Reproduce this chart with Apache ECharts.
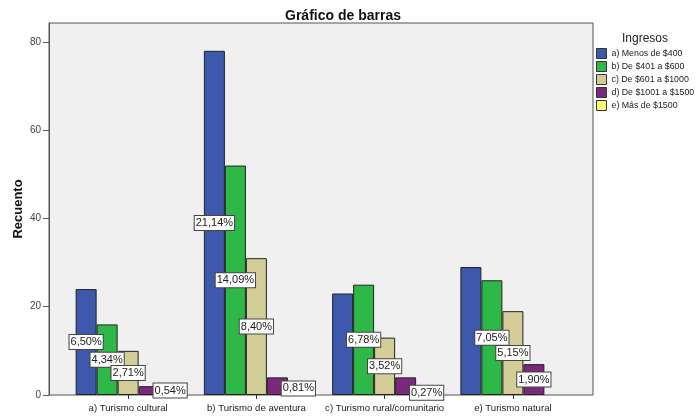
<!DOCTYPE html>
<html>
<head>
<meta charset="utf-8">
<script src="https://cdn.jsdelivr.net/npm/echarts@6/dist/echarts.min.js"></script>
<style>html,body{margin:0;padding:0;background:#fff}#c{width:696px;height:416px}</style>
</head>
<body>
<div id="c"></div>
<script>
const categories = ['a) Turismo cultural', 'b) Turismo de aventura', 'c) Turismo rural/comunitario', 'e) Turismo natural'];
const seriesNames = ['a) Menos de $400', 'b) De $401 a $600', 'c) De $601 a $1000', 'd) De $1001 a $1500', 'e) Más de $1500'];
const menos400 = [24, 78, 23, 29];
const de401a600 = [16, 52, 25, 26];
const de601a1000 = [10, 31, 13, 19];
const de1001a1500 = [2, 4, 4, 7];
const mas1500 = [2, 3, 1, 0];
const pctMenos400 = ['6,50%', '21,14%', '', ''];
const pct401a600 = ['4,34%', '14,09%', '6,78%', '7,05%'];
const pct601a1000 = ['2,71%', '8,40%', '3,52%', '5,15%'];
const pct1001a1500 = ['', '', '', '1,90%'];
const pctMas1500 = ['0,54%', '0,81%', '0,27%', ''];
const yTicks = [0, 20, 40, 60, 80];
const colors = ['#3E58AC', '#2EB848', '#D3CE97', '#7C287D', '#FBF873'];

const values = [menos400, de401a600, de601a1000, de1001a1500, mas1500];
const pcts = [pctMenos400, pct401a600, pct601a1000, pct1001a1500, pctMas1500];
const FONT = 'Liberation Sans, Arial, sans-serif';
const YMAX = 84.3;

const chart = echarts.init(document.getElementById('c'), null, {renderer: 'canvas'});
chart.setOption({
  animation: false,
  textStyle: {fontFamily: FONT},
  title: [
    {text: 'Gráfico de barras', left: 338, top: 4, textAlign: 'center',
     textStyle: {fontSize: 14, fontWeight: 'bold', color: '#111', fontFamily: FONT}},
    {text: 'Ingresos', left: 640, top: 28, textAlign: 'center',
     textStyle: {fontSize: 12, fontWeight: 'normal', color: '#222', fontFamily: FONT}}
  ],
  legend: {
    orient: 'vertical', left: 591, top: 43,
    itemWidth: 10, itemHeight: 10, itemGap: 2,
    icon: 'rect',
    itemStyle: {borderColor: '#333', borderWidth: 1},
    textStyle: {fontSize: 8.8, lineHeight: 10, color: '#222', fontFamily: FONT},
    data: seriesNames
  },
  grid: [
    {left: 49, right: 103, top: 23, bottom: 21, show: true, backgroundColor: '#F0F0F0', borderColor: '#555', borderWidth: 1},
    {left: 64, right: 119, top: 23, bottom: 21}
  ],
  xAxis: [
    {gridIndex: 0, type: 'value', min: 0, max: 1, show: false},
    {gridIndex: 1, type: 'category', data: categories,
     axisLine: {show: false},
     axisTick: {show: true, alignWithLabel: true, length: 4, lineStyle: {color: '#333'}},
     axisLabel: {fontSize: 9.6, color: '#222', margin: 8, interval: 0, fontFamily: FONT}}
  ],
  yAxis: [
    {gridIndex: 0, type: 'value', min: 0, max: YMAX,
     name: 'Recuento', nameLocation: 'middle', nameGap: 24, nameRotate: 90, nameMoveOverlap: false,
     nameTextStyle: {fontSize: 13, fontWeight: 'bold', color: '#111', fontFamily: FONT},
     axisLine: {show: true, lineStyle: {color: '#555'}},
     axisTick: {show: true, inside: false, length: 6, lineStyle: {color: '#555'}, customValues: yTicks},
     axisLabel: {fontSize: 10, color: '#444', margin: 8, customValues: yTicks, fontFamily: FONT},
     splitLine: {show: false}},
    {gridIndex: 1, type: 'value', min: 0, max: YMAX, show: false, splitLine: {show: false}}
  ],
  series: seriesNames.map((name, i) => ({
    name: name, type: 'bar', xAxisIndex: 1, yAxisIndex: 1,
    data: values[i].map((v, j) => ({
      value: v,
      label: {show: pcts[i][j] !== ''},
      itemStyle: v === 0 ? {borderWidth: 0, opacity: 0} : undefined
    })),
    barWidth: 21, barGap: '0%',
    itemStyle: {color: colors[i], borderColor: '#222', borderWidth: 1},
    label: {
      position: 'inside',
      formatter: p => pcts[i][p.dataIndex],
      fontSize: 11, color: '#222', fontFamily: FONT,
      backgroundColor: '#fff', borderColor: '#444', borderWidth: 1,
      padding: [2, 1, 1, 1]
    },
    emphasis: {disabled: true}
  }))
});
</script>
</body>
</html>
